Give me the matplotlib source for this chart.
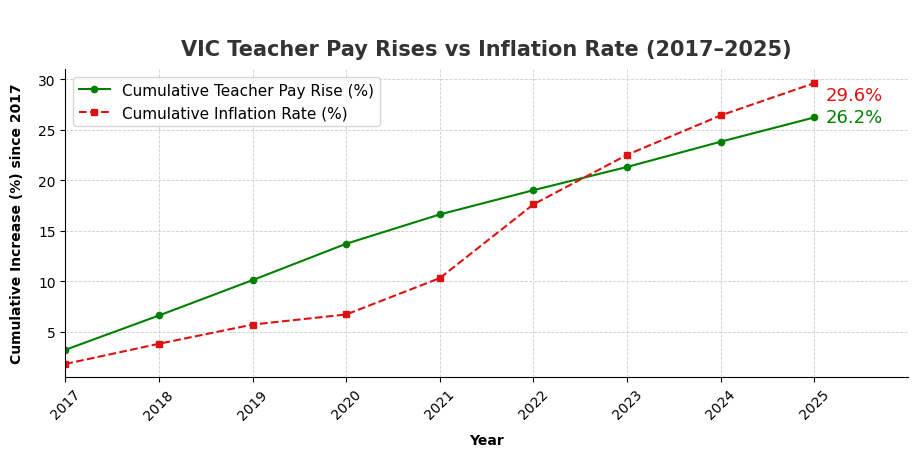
import matplotlib
matplotlib.use("Agg")
import matplotlib.pyplot as plt

years = [2017, 2018, 2019, 2020, 2021, 2022, 2023, 2024, 2025]
pay = [3.2, 6.6, 10.1, 13.7, 16.6, 19.0, 21.3, 23.8, 26.2]
infl = [1.8, 3.8, 5.7, 6.7, 10.3, 17.6, 22.5, 26.4, 29.6]

fig = plt.figure(figsize=(9.2, 4.6), dpi=100)
ax = fig.add_axes([0.071, 0.178, 0.916, 0.67])
ax.plot(years, pay, color="green", marker="o", markersize=4.5, lw=1.5, label="Cumulative Teacher Pay Rise (%)")
ax.plot(years, infl, color="#dd1111", marker="s", markersize=4.5, lw=1.5, ls="--", label="Cumulative Inflation Rate (%)")
ax.text(2025.12, infl[-1] - 0.3, f"{infl[-1]}%", color="#dd1111", fontsize=13, va="top")
ax.text(2025.12, pay[-1], f"{pay[-1]}%", color="green", fontsize=13, va="center")
ax.set_xlim(2017, 2026)
ax.set_ylim(0.5, 31)
ax.set_xticks(years)
ax.set_xticklabels([str(y) for y in years], rotation=45, fontsize=10)
ax.set_yticks([5, 10, 15, 20, 25, 30])
ax.tick_params(labelsize=10)
ax.grid(True, ls="--", lw=0.6, color="#cccccc")
for s in ["top", "right"]:
    ax.spines[s].set_visible(False)
ax.set_xlabel("Year", fontweight="bold", fontsize=10, labelpad=8)
ax.set_ylabel("Cumulative Increase (%) since 2017", fontweight="bold", fontsize=10, labelpad=10)
ax.set_title("VIC Teacher Pay Rises vs Inflation Rate (2017–2025)", fontsize=15, fontweight="bold", color="#333333", pad=10)
ax.legend(loc="upper left", fontsize=11, bbox_to_anchor=(0.0, 1.0))
fig.savefig("out.png")
